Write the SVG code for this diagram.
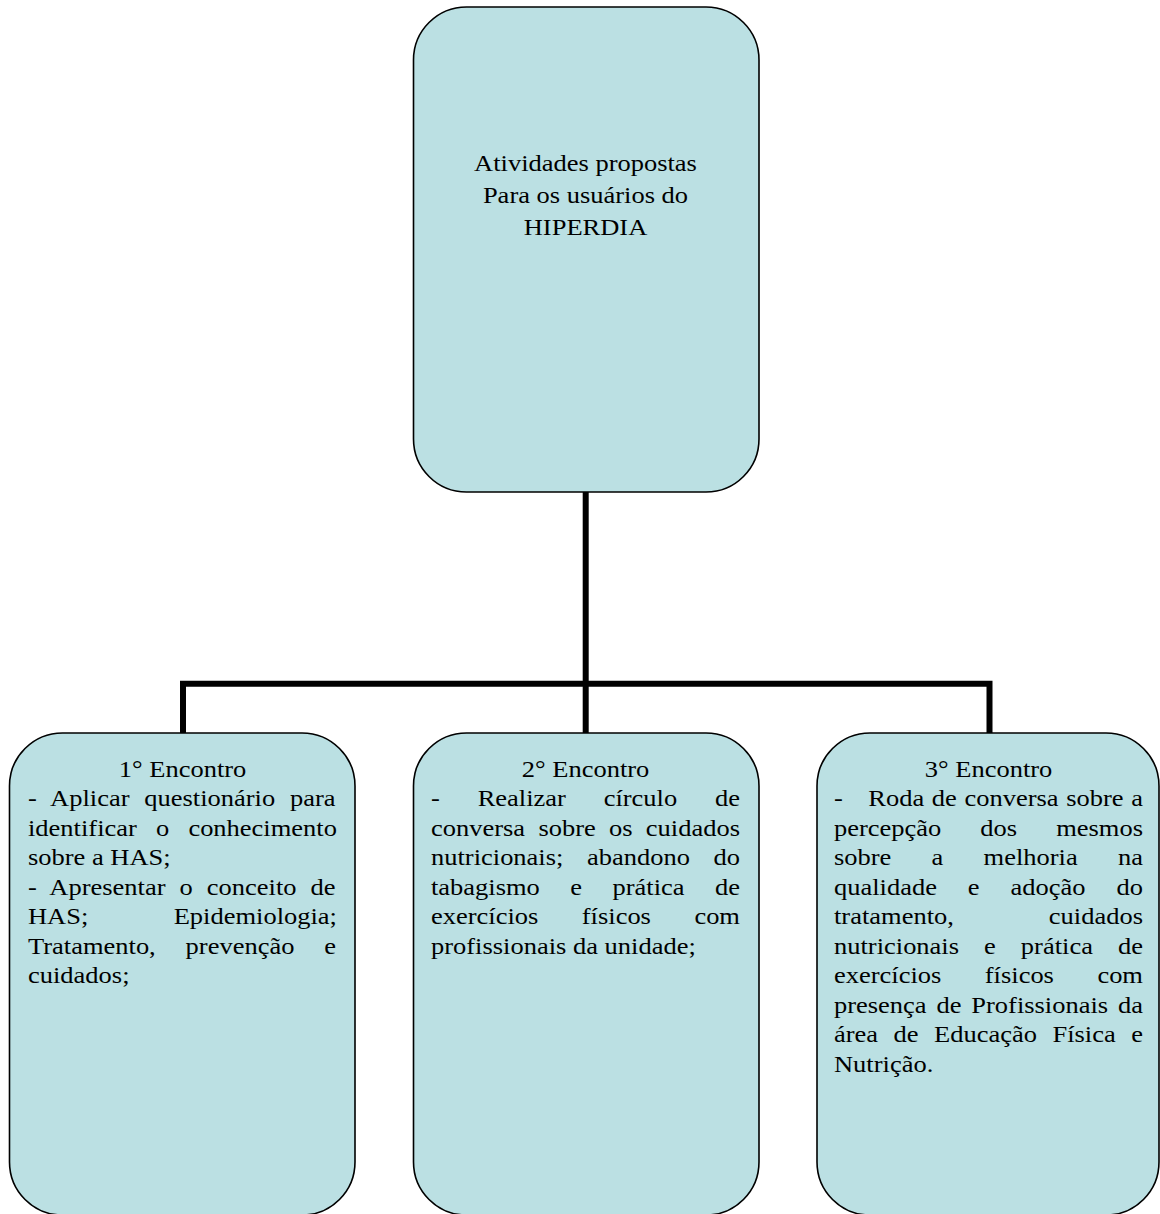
<svg xmlns="http://www.w3.org/2000/svg" width="1160" height="1214" viewBox="0 0 1160 1214">
<style>
.box{fill:#BBE0E3;stroke:#000;stroke-width:1.6}
.t{font-family:"Liberation Serif","Times New Roman",serif;font-size:24px;fill:#000}
.c{text-anchor:middle}
.conn{fill:none;stroke:#000;stroke-width:6;stroke-linecap:square}
</style>
<rect width="1160" height="1214" fill="#fff"/>
<g id="connectors">
<path class="conn" d="M585.7,493 V683.7 M183,683.7 H989.5 M183,683.7 V731 M585.7,683.7 V731 M989.5,683.7 V731"/>
</g>
<g id="node-top">
<rect class="box" x="413.5" y="7" width="345.5" height="485" rx="53" ry="53"/>
<g transform="translate(585.5,0) scale(1.104,1)">
<text class="t c" x="0" y="171">Atividades propostas</text>
<text class="t c" x="0" y="203">Para os usuários do</text>
<text class="t c" x="0" y="235">HIPERDIA</text>
</g>
</g>
<g id="node-1">
<rect class="box" x="9.5" y="733" width="345.5" height="482" rx="53" ry="53"/>
<g transform="translate(28,0) scale(1.104,1)">
<text class="t c" x="140" y="777">1° Encontro</text>
<text class="t" x="0" y="806.5" word-spacing="7.36">- Aplicar questionário para</text>
<text class="t" x="0" y="836" word-spacing="11.36">identificar o conhecimento</text>
<text class="t" x="0" y="865.5">sobre a HAS;</text>
<text class="t" x="0" y="895" word-spacing="6.69">- Apresentar o conceito de</text>
<text class="t" x="0" y="924.5" word-spacing="71.32">HAS; Epidemiologia;</text>
<text class="t" x="0" y="954" word-spacing="21.05">Tratamento, prevenção e</text>
<text class="t" x="0" y="983.5">cuidados;</text>
</g>
</g>
<g id="node-2">
<rect class="box" x="413.5" y="733" width="345.5" height="482" rx="53" ry="53"/>
<g transform="translate(431,0) scale(1.104,1)">
<text class="t c" x="140" y="777">2° Encontro</text>
<text class="t" x="0" y="806.5" word-spacing="28.25">- Realizar círculo de</text>
<text class="t" x="0" y="836" word-spacing="6.02">conversa sobre os cuidados</text>
<text class="t" x="0" y="865.5" word-spacing="15.35">nutricionais; abandono do</text>
<text class="t" x="0" y="895" word-spacing="21.57">tabagismo e prática de</text>
<text class="t" x="0" y="924.5" word-spacing="33.36">exercícios físicos com</text>
<text class="t" x="0" y="954">profissionais da unidade;</text>
</g>
</g>
<g id="node-3">
<rect class="box" x="817" y="733" width="342" height="482" rx="53" ry="53"/>
<g transform="translate(834,0) scale(1.104,1)">
<text class="t c" x="140" y="777">3° Encontro</text>
<text class="t" x="0" y="806.5">-<tspan x="31.1" word-spacing="0.91">Roda de conversa sobre a</tspan></text>
<text class="t" x="0" y="836" word-spacing="29.36">percepção dos mesmos</text>
<text class="t" x="0" y="865.5" word-spacing="30.46">sobre a melhoria na</text>
<text class="t" x="0" y="895" word-spacing="22.02">qualidade e adoção do</text>
<text class="t" x="0" y="924.5" word-spacing="80.03">tratamento, cuidados</text>
<text class="t" x="0" y="954" word-spacing="16.69">nutricionais e prática de</text>
<text class="t" x="0" y="983.5" word-spacing="33.36">exercícios físicos com</text>
<text class="t" x="0" y="1013" word-spacing="2.91">presença de Profissionais da</text>
<text class="t" x="0" y="1042.5" word-spacing="8.03">área de Educação Física e</text>
<text class="t" x="0" y="1072">Nutrição.</text>
</g>
</g>
</svg>
